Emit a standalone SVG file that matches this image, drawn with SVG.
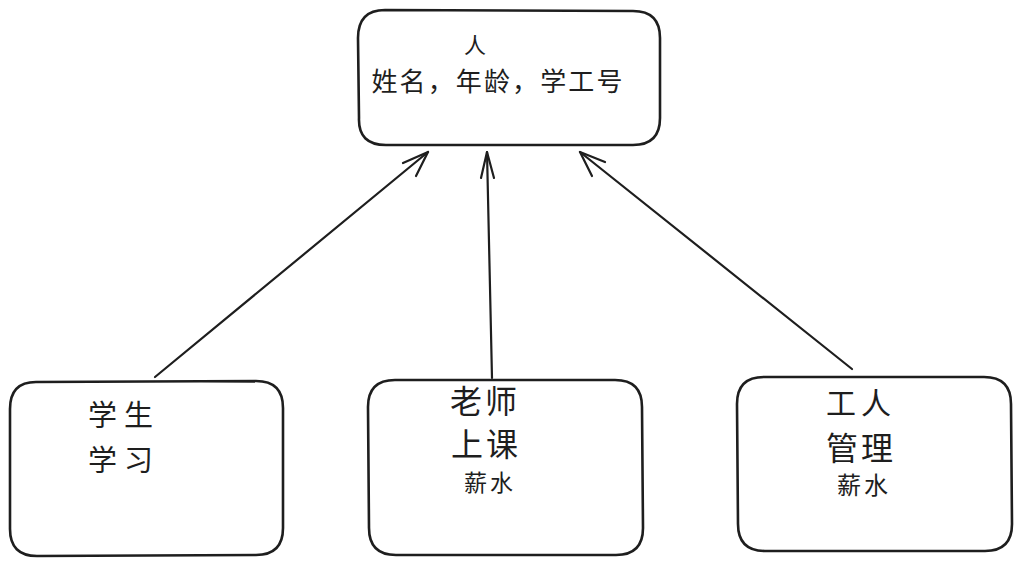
<svg xmlns="http://www.w3.org/2000/svg" width="1021" height="566" viewBox="0 0 1021 566">
<style>
.box{fill:#ffffff;stroke:#1e1e1e;stroke-width:2.6;stroke-linecap:round;stroke-linejoin:round}
.edge{fill:none;stroke:#1e1e1e;stroke-width:2.2;stroke-linecap:round;stroke-linejoin:round}
text{font-family:"Noto Sans CJK SC","Noto Sans",sans-serif;fill:#1e1e1e;text-anchor:middle}
</style>
<rect width="1021" height="566" fill="#ffffff"/>
<g id="connectors">
<path class="edge" d="M155,377 L428,152"/>
<path class="edge" d="M403,163 L428,152 L416,176"/>
<path class="edge" d="M492,378 L487,152"/>
<path class="edge" d="M481,178 L487,152 L494,178"/>
<path class="edge" d="M852,369 L580,152"/>
<path class="edge" d="M592,176 L580,152 L605,162"/>
</g>
<g id="node-person">
<path class="box" d="M385,10 L633,11 Q660,11 660,38 L660,118 Q660,145 633,145 L386,145 Q358,145 359,118 L358,38 Q358,10 385,10 Z"/>
<text x="475" y="53" font-size="22">人</text>
<text x="497" y="91" font-size="26" textLength="251" lengthAdjust="spacing">姓名，年龄，学工号</text>
</g>
<g id="node-student">
<path class="box" d="M36,382 L256,381 Q283,381 283,408 L283,528 Q283,555 256,555 L37,556 Q10,556 10,529 L10,409 Q10,382 36,382 Z"/>
<text x="124" y="426" font-size="29" letter-spacing="7">学生</text>
<text x="124" y="471" font-size="29" letter-spacing="7">学习</text>
</g>
<g id="node-teacher">
<path class="box" d="M395,380 L615,380 Q642,380 642,407 L643,528 Q643,555 616,555 L396,555 Q369,555 369,528 L368,407 Q368,380 395,380 Z"/>
<text x="485" y="413" font-size="32" letter-spacing="3">老师</text>
<text x="486" y="456" font-size="32" letter-spacing="3">上课</text>
<text x="490" y="491" font-size="23" letter-spacing="3">薪水</text>
</g>
<g id="node-worker">
<path class="box" d="M764,377 L984,377 Q1011,377 1011,404 L1012,524 Q1012,551 985,551 L765,551 Q738,551 738,524 L737,404 Q737,377 764,377 Z"/>
<text x="861" y="414" font-size="30" letter-spacing="5">工人</text>
<text x="861" y="460" font-size="32" letter-spacing="3">管理</text>
<text x="864" y="494" font-size="24" letter-spacing="3">薪水</text>
</g>
</svg>
